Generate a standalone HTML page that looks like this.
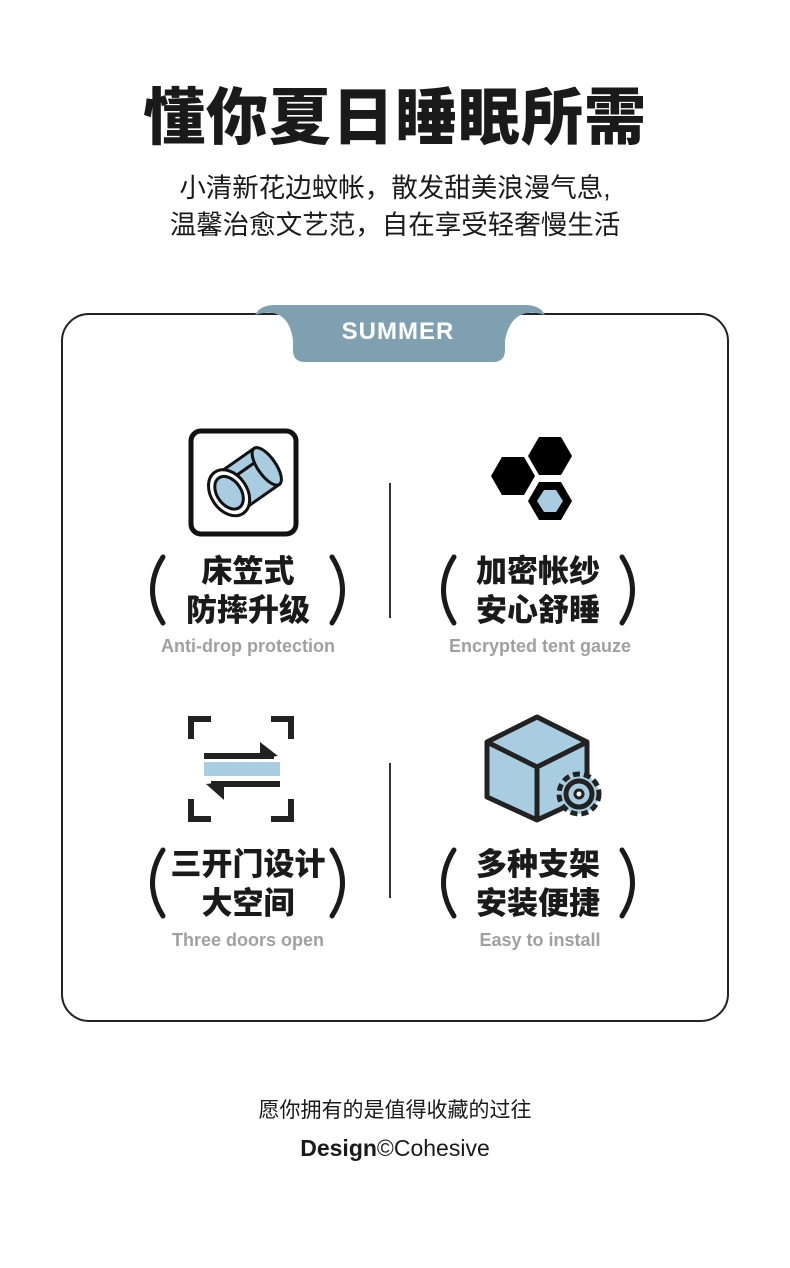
<!DOCTYPE html>
<html><head><meta charset="utf-8"><style>
body{margin:0;width:790px;height:1268px;background:#fff;position:relative;overflow:hidden;font-family:"Liberation Sans","Noto Sans CJK SC",sans-serif;color:#1a1a1a}
.a{position:absolute}
.c{text-align:center}
.t{font-size:62px;font-weight:900;left:0;width:790px;top:79px;line-height:80px;letter-spacing:1px}
.s{font-size:26.5px;left:0;width:790px;line-height:37px;top:170px}
.card{left:61px;top:313px;width:664px;height:705px;border:2px solid #222;border-radius:28px}
.zh{font-size:31px;font-weight:900;line-height:39px;width:240px}
.en{font-size:18px;font-weight:bold;color:#a0a0a0;width:260px}
.v{width:1.5px;background:#333;left:389px}
</style></head><body>
<div class="a c t">懂你夏日睡眠所需</div>
<div class="a c s">小清新花边蚊帐，散发甜美浪漫气息,<br>温馨治愈文艺范，自在享受轻奢慢生活</div>
<div class="a card"></div>
<svg class="a" style="left:250px;top:300px" width="300" height="66"><path d="M5 15 Q10 5 25 5 H275 Q290 5 295 15 Q262 5 255 40 V50 Q255 62 243 62 H55 Q43 62 43 50 V40 Q38 5 5 15Z" fill="#7fa0b0"/></svg>
<div class="a c" style="left:293px;top:318px;width:210px;font-size:24px;font-weight:bold;color:#fff;letter-spacing:1px">SUMMER</div>
<div class="a v" style="top:483px;height:135px"></div>
<div class="a v" style="top:763px;height:135px"></div>
<svg class="a" style="left:188px;top:428px" width="112" height="110"><rect x="3" y="3" width="105" height="103" rx="10" fill="none" stroke="#111" stroke-width="5"/>
<g transform="rotate(-35 55 55)"><rect x="38" y="33" width="46" height="44" fill="#a9cde0" stroke="#111" stroke-width="3"/><line x1="40" y1="45" x2="84" y2="45" stroke="#111" stroke-width="3"/><ellipse cx="84" cy="55" rx="9" ry="22" fill="#a9cde0" stroke="#111" stroke-width="3"/><ellipse cx="38" cy="55" rx="18" ry="25" fill="#fff" stroke="#111" stroke-width="3"/><ellipse cx="38" cy="55" rx="12" ry="18" fill="#a9cde0" stroke="#111" stroke-width="3"/></g></svg>
<svg class="a" style="left:488px;top:432px" width="100" height="95"><polygon points="84,24 73,5 51,5 40,24 51,43 73,43" fill="#000"/><polygon points="47,44 36,25 14,25 3,44 14,63 36,63" fill="#000"/><polygon points="84,69 73,50 51,50 40,69 51,88 73,88" fill="#000"/><polygon points="75,69 68,58 56,58 49,69 56,80 68,80" fill="#a9cde0"/></svg>
<svg class="a" style="left:186px;top:714px" width="112" height="112" fill="none" stroke="#222" stroke-width="6"><path d="M5 25 V5 H25 M85 5 H105 V25 M5 85 V105 H25 M85 105 H105 V85"/><rect x="18" y="48" width="76" height="14" fill="#a9cde0" stroke="none"/><path d="M18 42 H88 M25 70 H94"/><path d="M74 28 L92 42 L74 44Z M38 86 L20 70 L38 68Z" fill="#222" stroke="none"/></svg>
<svg class="a" style="left:482px;top:712px" width="125" height="112"><polygon points="5,30 55,5 105,30 105,85 55,108 5,85" fill="#a9cde0" stroke="#222" stroke-width="5" stroke-linejoin="round"/><path d="M5 30 L55 55 L105 30 M55 55 V108" fill="none" stroke="#222" stroke-width="5"/><circle cx="97" cy="82" r="20" fill="#a9cde0" stroke="#222" stroke-width="5" stroke-dasharray="7 4"/><circle cx="97" cy="82" r="13" fill="#a9cde0" stroke="#222" stroke-width="5"/><circle cx="97" cy="82" r="4" fill="#fff" stroke="#222" stroke-width="3"/></svg>
<svg class="a" style="left:0;top:0" width="790" height="1268" fill="none" stroke="#1a1a1a" stroke-width="5" stroke-linecap="round">
<path d="M163 557 Q142 590 163 623 M332 557 Q353 590 332 623"/>
<path d="M454 557 Q433 590 454 623 M622 557 Q643 590 622 623"/>
<path d="M163 850 Q142 883 163 916 M332 850 Q353 883 332 916"/>
<path d="M454 850 Q433 883 454 916 M622 850 Q643 883 622 916"/>
</svg>
<div class="a c zh" style="left:128px;top:552px">床笠式<br>防摔升级</div>
<div class="a c en" style="left:118px;top:636px">Anti-drop protection</div>
<div class="a c zh" style="left:418px;top:552px">加密帐纱<br>安心舒睡</div>
<div class="a c en" style="left:410px;top:636px">Encrypted tent gauze</div>
<div class="a c zh" style="left:128px;top:845px">三开门设计<br>大空间</div>
<div class="a c en" style="left:118px;top:930px">Three doors open</div>
<div class="a c zh" style="left:418px;top:845px">多种支架<br>安装便捷</div>
<div class="a c en" style="left:410px;top:930px">Easy to install</div>
<div class="a c" style="left:0;width:790px;top:1094px;font-size:21px">愿你拥有的是值得收藏的过往</div>
<div class="a c" style="left:0;width:790px;top:1135px;font-size:23px"><b>Design</b>©Cohesive</div>
</body></html>
